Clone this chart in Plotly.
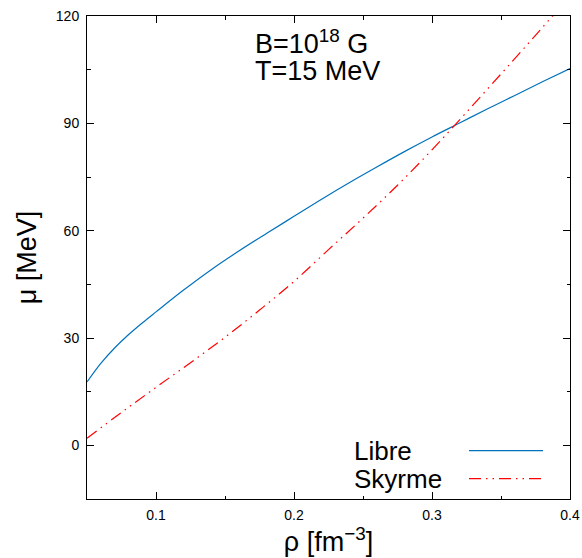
import plotly.graph_objects as go

# Data
rho_libre = [0.05, 0.06, 0.07, 0.08, 0.09, 0.10, 0.12, 0.14, 0.16, 0.18, 0.20,
             0.22, 0.24, 0.26, 0.28, 0.30, 0.32, 0.34, 0.36, 0.38, 0.40]
mu_libre = [17.7, 22.9, 27.2, 30.9, 34.2, 37.3, 43.4, 49.1, 54.3, 59.2, 64.0,
            68.8, 73.4, 77.8, 82.1, 86.2, 90.1, 94.0, 97.8, 101.6, 105.3]

rho_skyrme = [0.05, 0.075, 0.10, 0.125, 0.15, 0.175, 0.20, 0.225, 0.25, 0.275,
              0.30, 0.325, 0.35, 0.375, 0.40]
mu_skyrme = [2.0, 9.2, 16.2, 23.1, 30.2, 37.8, 45.8, 54.7, 63.5, 72.7,
             82.6, 93.1, 103.8, 114.6, 125.6]

series_names = ["Libre", "Skyrme"]
x_tickvals = [0.1, 0.2, 0.3, 0.4]
y_tickvals = [0, 30, 60, 90, 120]

FONT = "Liberation Sans, Arial, sans-serif"
BLUE = "#0072bd"
RED = "#ff0000"
RED_DASH = "12px,5px,1.5px,5px,1.5px,5px"

fig = go.Figure()
fig.add_trace(go.Scatter(x=rho_libre, y=mu_libre, mode="lines", name=series_names[0],
                         line=dict(color=BLUE, width=1.2, shape="spline"), showlegend=False))
fig.add_trace(go.Scatter(x=rho_skyrme, y=mu_skyrme, mode="lines", name=series_names[1],
                         line=dict(color=RED, width=1.2, dash=RED_DASH, shape="spline"),
                         showlegend=False))

fig.update_layout(
    template="none",
    width=582, height=558,
    margin=dict(l=87, r=12, t=16, b=59, autoexpand=False),
    paper_bgcolor="white", plot_bgcolor="white",
    showlegend=False,
    font=dict(family=FONT, color="black", size=14),
)

axis_common = dict(
    automargin=False,
    ticks="inside", ticklen=7, tickwidth=1, tickcolor="black",
    showline=True, linecolor="black", linewidth=1, mirror="ticks",
    showgrid=False, zeroline=False, tickfont=dict(size=14, family=FONT, color="black"),
)

fig.update_xaxes(
    range=[0.05, 0.4], tickvals=x_tickvals, ticktext=[str(v) for v in x_tickvals],
    minor=dict(dtick=0.05, tick0=0, ticks="inside", ticklen=3.5, tickcolor="black",
               tickwidth=1, showgrid=False),
    title=dict(text="ρ [fm<sup>−3</sup>]", font=dict(size=27, family=FONT), standoff=3),
    ticklabelstandoff=3,
    **axis_common,
)
fig.update_yaxes(
    range=[-15, 120], tickvals=y_tickvals, ticktext=[str(v) for v in y_tickvals],
    minor=dict(dtick=15, tick0=0, ticks="inside", ticklen=3.5, tickcolor="black",
               tickwidth=1, showgrid=False),
    title=dict(text="μ [MeV]", font=dict(size=27, family=FONT), standoff=11),
    ticklabelstandoff=4,
    **axis_common,
)

# Text annotations in the plot
fig.add_annotation(x=0.3437, y=0.907, xref="paper", yref="paper", xanchor="left",
                   yanchor="bottom", showarrow=False,
                   text="B=10<sup>18</sup> G", font=dict(size=27, family=FONT, color="black"))
fig.add_annotation(x=0.3437, y=0.851, xref="paper", yref="paper", xanchor="left",
                   yanchor="bottom", showarrow=False,
                   text="T=15 MeV", font=dict(size=27, family=FONT, color="black"))

# Key (text on the left, sample on the right)
key_rows = [(series_names[0], 0.100, dict(color=BLUE, width=1.2)),
            (series_names[1], 0.042, dict(color=RED, width=1.2, dash=RED_DASH))]
for name, yk, ln in key_rows:
    fig.add_annotation(x=0.5487, y=yk, xref="paper", yref="paper", xanchor="left",
                       yanchor="middle", showarrow=False, text=name,
                       font=dict(size=26, family=FONT, color="black"))
    fig.add_shape(type="line", xref="paper", yref="paper", x0=0.7909, x1=0.9441,
                  y0=yk, y1=yk, line=ln)

fig.write_html("out.html")
